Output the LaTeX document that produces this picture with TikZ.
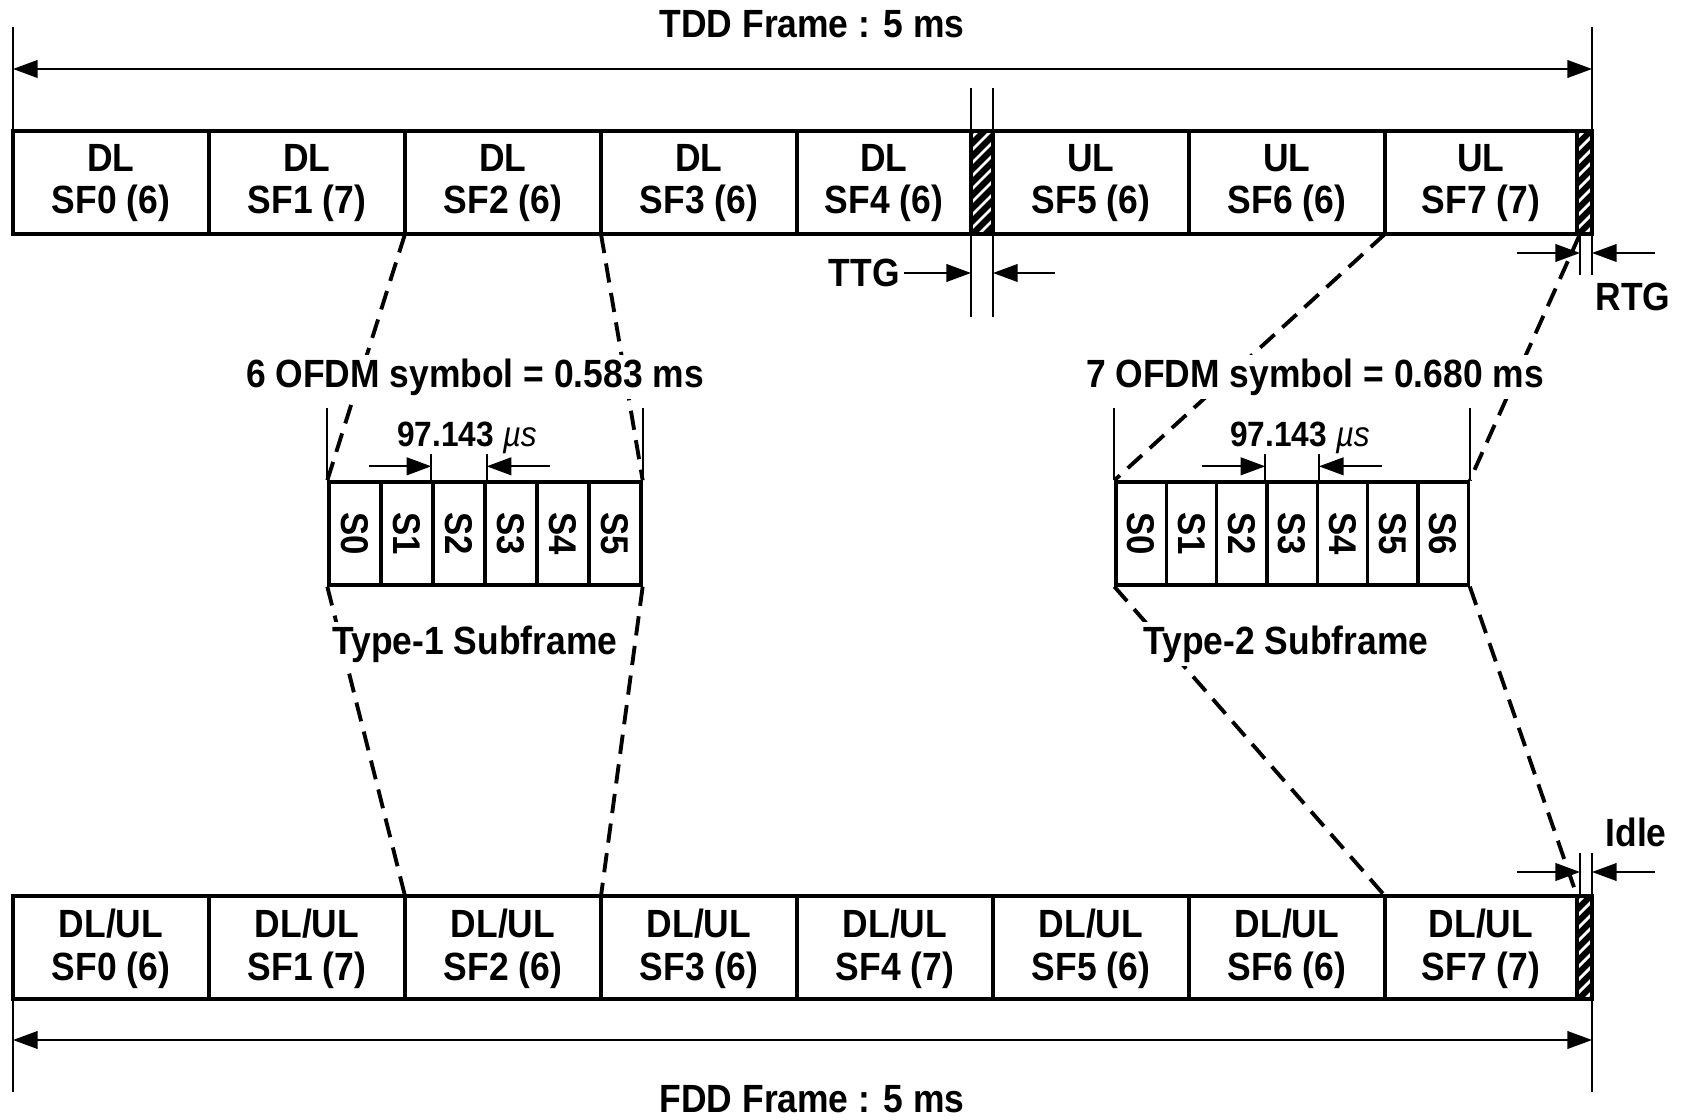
\documentclass[tikz,border=0pt]{standalone}
\usepackage{fontspec}
\setmainfont{Liberation Sans}[FakeStretch=0.9]
\usetikzlibrary{arrows.meta}

\tikzset{
  >={Triangle[length=7pt,width=5pt]},
  rowline/.style={line width=1.1pt},
  thinl/.style={line width=0.6pt},
  zoomline/.style={line width=1.1pt, dash pattern=on 5.5pt off 3pt},
  lbl/.style={font=\bfseries\fontsize{11.2}{12.2}\selectfont, align=center, inner sep=1pt},
  smalllbl/.style={font=\bfseries\fontsize{10}{11}\selectfont, inner sep=1pt},
  sym/.style={draw, line width=0.95pt, minimum height=10.3mm, inner sep=0pt,
    font=\bfseries\fontsize{11}{12}\selectfont},
}

\begin{document}
\begin{tikzpicture}[x=0.1mm, y=-0.1mm]
\useasboundingbox (0,0) rectangle (1682,1120);

% TDD frame
\node[lbl] (tdd) at (812,24) {TDD Frame : 5 ms};
\draw[thinl] (13,27) -- (13,131);
\draw[thinl] (1592,27) -- (1592,275);
\draw[thinl,<->] (13,69) -- (1592,69);

\foreach \xa/\xb/\k/\n in {13/209/0/6, 209/405/1/7, 405/601/2/6, 601/797/3/6, 797/971/4/6}{
\draw[rowline] (\xa,131) rectangle (\xb,234);
\node[lbl] (td\k) at ({(\xa+\xb)/2},183) {DL\\SF\k\ (\n)};}
\foreach \xa/\xb/\k/\n in {993/1189/5/6, 1189/1385/6/6, 1385/1577/7/7}{
\draw[rowline] (\xa,131) rectangle (\xb,234);
\node[lbl] (td\k) at ({(\xa+\xb)/2},183) {UL\\SF\k\ (\n)};}

% FDD frame
\foreach \xa/\xb/\k/\n in {13/209/0/6, 209/405/1/7, 405/601/2/6, 601/797/3/6, 797/993/4/7, 993/1189/5/6, 1189/1385/6/6, 1385/1577/7/7}{
\draw[rowline] (\xa,896) rectangle (\xb,999);
\node[lbl] (fd\k) at ({(\xa+\xb)/2},949) {DL/UL\\SF\k\ (\n)};}

\draw[thinl] (13,999) -- (13,1092);
\draw[thinl] (1592,999) -- (1592,1092);
\draw[thinl,<->] (13,1040) -- (1592,1040);
\node[lbl] (fdd) at (812,1099) {FDD Frame : 5 ms};

% gaps
\foreach \xa/\ya/\xb/\yb in {971/131/993/234, 1577/131/1592/234, 1577/896/1592/999}{
\begin{scope}
\clip (\xa,\ya) rectangle (\xb,\yb);
\fill[black] (\xa,\ya) rectangle (\xb,\yb);
\foreach \k in {0,13,...,143}
  \draw[white, line width=0.8pt] (\xa-6,\ya+\k) -- (\xb+6,\ya+\k-\xb+\xa-12);
\end{scope}
\draw[rowline] (\xa,\ya) rectangle (\xb,\yb);}

% TTG
\draw[thinl] (971,88) -- (971,317);
\draw[thinl] (993,88) -- (993,317);
\node[lbl, anchor=east] (ttg) at (904,273) {TTG};
\draw[thinl,->] (ttg.east) -- (971,273);
\draw[thinl,->] (1055,273) -- (993,273);

% RTG
\draw[thinl] (1580,234) -- (1580,275);
\draw[thinl,->] (1517,253) -- (1580,253);
\draw[thinl,->] (1655,253) -- (1592,253);
\node[lbl] (rtg) at (1633,297) {RTG};

% Idle
\draw[thinl] (1580,853) -- (1580,896);
\draw[thinl] (1592,853) -- (1592,896);
\draw[thinl,->] (1517,872) -- (1580,872);
\draw[thinl,->] (1655,872) -- (1592,872);
\node[lbl] (idle) at (1636,832) {Idle};

% Type-1 subframe
\foreach \i in {0,...,5}
\node[sym, minimum width=5.2mm] (sa\i) at ({355+52*\i},533.5) {\rotatebox{-90}{S\i}};
\draw[thinl] (sa0.north west) -- ++(0,-72);
\draw[thinl] (sa5.north east) -- ++(0,-72);
\draw[thinl] (sa2.north west) -- ++(0,-26);
\draw[thinl] (sa2.north east) -- ++(0,-26);
\draw[thinl,->] (sa2.north west) ++(-62,-14) -- ++(62,0);
\draw[thinl,->] (sa2.north east) ++(63,-14) -- ++(-63,0);
\node[smalllbl] (dta) at (467,438) {97.143 {\mdseries\itshape µs}};

% Type-2 subframe
\foreach \i in {0,...,6}
\node[sym, minimum width=5.03mm] (sb\i) at ({1141.2+50.3*\i},533.5) {\rotatebox{-90}{S\i}};
\draw[thinl] (sb0.north west) -- ++(0,-72);
\draw[thinl] (sb6.north east) -- ++(0,-72);
\draw[thinl] (sb3.north west) -- ++(0,-26);
\draw[thinl] (sb3.north east) -- ++(0,-26);
\draw[thinl,->] (sb3.north west) ++(-63,-14) -- ++(63,0);
\draw[thinl,->] (sb3.north east) ++(63,-14) -- ++(-63,0);
\node[smalllbl] (dtb) at (1300,438) {97.143 {\mdseries\itshape µs}};

% zoom lines
\coordinate (t2) at (405,234);
\coordinate (t3) at (601,234);
\coordinate (t7) at (1385,234);
\coordinate (tr) at (1580,234);
\coordinate (f2) at (405,896);
\coordinate (f3) at (601,896);
\coordinate (f7) at (1385,896);
\coordinate (fi) at (1577,896);

\draw[zoomline] (t2) -- (sa0.north west);
\draw[zoomline] (t3) -- (sa5.north east);
\draw[zoomline] (sa0.south west) -- (f2);
\draw[zoomline] (sa5.south east) -- (f3);
\draw[zoomline] (t7) -- (sb0.north west);
\draw[zoomline] (tr) -- (sb6.north east);
\draw[zoomline] (sb0.south west) -- (f7);
\draw[zoomline] (sb6.south east) -- (fi);

\node[lbl, fill=white] (ofa) at (475,377) {6 OFDM symbol = 0.583 ms};
\node[lbl, fill=white] (tya) at (475,644) {Type-1 Subframe};
\node[lbl, fill=white] (ofb) at (1315,377) {7 OFDM symbol = 0.680 ms};
\node[lbl, fill=white] (tyb) at (1286,644) {Type-2 Subframe};

\end{tikzpicture}
\end{document}
